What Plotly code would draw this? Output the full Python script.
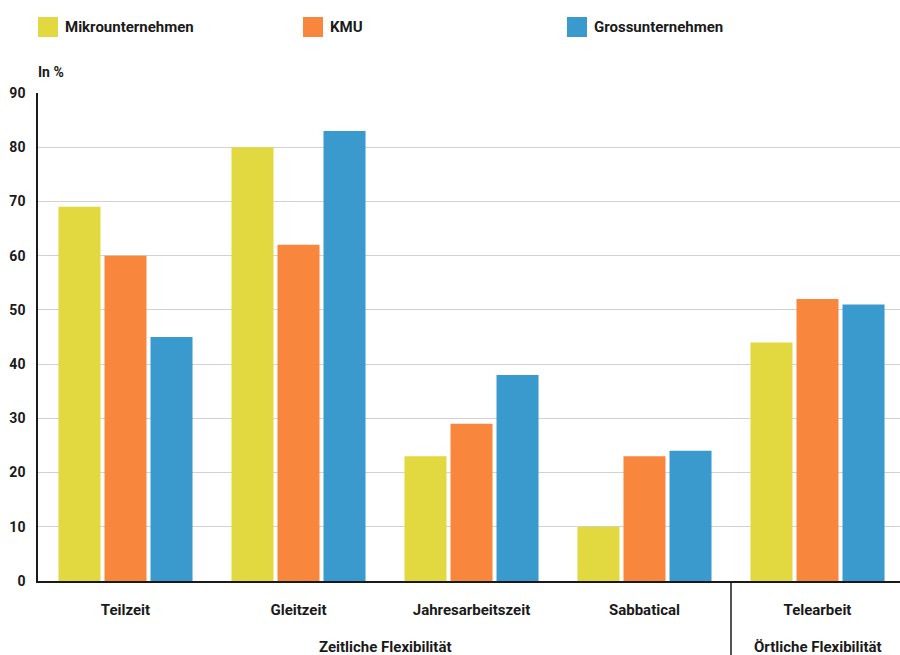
import plotly.graph_objects as go

# Flexible Arbeitsmodelle nach Unternehmensgrösse (in %)
categories = ["Teilzeit", "Gleitzeit", "Jahresarbeitszeit", "Sabbatical", "Telearbeit"]
series_names = ["Mikrounternehmen", "KMU", "Grossunternehmen"]
mikro = [69, 80, 23, 10, 44]
kmu = [60, 62, 29, 23, 52]
gross = [45, 83, 38, 24, 51]
y_ticks = [0, 10, 20, 30, 40, 50, 60, 70, 80, 90]
group_labels = ["Zeitliche Flexibilität", "Örtliche Flexibilität"]

colors = ["#E2D840", "#F8873D", "#3A9ACD"]
FONT = "Roboto, Arial, sans-serif"
TXT = "#1a1a1a"

x_pos = list(range(len(categories)))

fig = go.Figure()
for name, vals, col in zip(series_names, [mikro, kmu, gross], colors):
    fig.add_trace(go.Bar(x=x_pos, y=vals, name=name, marker=dict(color=col, line=dict(width=0)),
                         showlegend=False))

# Custom legend: colored squares with bold labels
legend_x = [38, 303, 567]
W, H = 900, 655
ml, mr, mt, mb = 38, 0, 93, 74
pw, ph = W - ml - mr, H - mt - mb
shapes = []
annotations = []
for lx, name, col in zip(legend_x, series_names, colors):
    x0 = (lx - ml) / pw
    x1 = (lx + 20 - ml) / pw
    y0 = (H - mb - 37) / ph
    y1 = (H - mb - 17) / ph
    shapes.append(dict(type="rect", xref="paper", yref="paper", x0=x0, x1=x1, y0=y0, y1=y1,
                       fillcolor=col, line=dict(width=0)))
    annotations.append(dict(xref="paper", yref="paper", x=(lx + 25 - ml) / pw, y=(H - mb - 27) / ph,
                            text="<b>%s</b>" % name, showarrow=False, xanchor="left", yanchor="middle",
                            font=dict(family=FONT, size=15, color=TXT)))

# Axis unit label
annotations.append(dict(xref="paper", yref="paper", x=-0.002, y=(H - mb - 72) / ph, text="<b>In %</b>",
                        showarrow=False, xanchor="left", yanchor="middle",
                        font=dict(family=FONT, size=14, color=TXT)))

# Group labels below the categories
gy = -(647 - (H - mb)) / ph
annotations.append(dict(xref="x", yref="paper", x=1.5, y=gy, text="<b>%s</b>" % group_labels[0],
                        showarrow=False, xanchor="center", yanchor="middle",
                        font=dict(family=FONT, size=15, color=TXT)))
annotations.append(dict(xref="x", yref="paper", x=4, y=gy, text="<b>%s</b>" % group_labels[1],
                        showarrow=False, xanchor="center", yanchor="middle",
                        font=dict(family=FONT, size=15, color=TXT)))

# Separator between the two groups
shapes.append(dict(type="line", xref="x", yref="paper", x0=3.5, x1=3.5, y0=0, y1=-mb / ph - 0.01,
                   line=dict(color=TXT, width=1.5)))

x_start = -0.5 - 1.0 / 173.0
fig.update_layout(
    width=W, height=H,
    margin=dict(l=ml, r=mr, t=mt, b=mb, pad=0),
    paper_bgcolor="white", plot_bgcolor="white",
    barmode="group", bargap=0.202, bargroupgap=0.087,
    font=dict(family=FONT, size=14, color=TXT),
    shapes=shapes, annotations=annotations,
    xaxis=dict(
        tickmode="array", tickvals=x_pos, ticktext=["<b>%s</b>" % c for c in categories],
        range=[x_start, x_start + pw / 173.0],
        showgrid=False, zeroline=False, showline=True, linecolor=TXT, linewidth=2,
        ticks="", ticklabelstandoff=14, tickfont=dict(family=FONT, size=15, color=TXT),
    ),
    yaxis=dict(
        range=[0, 90], tickmode="array", tickvals=y_ticks, ticktext=["<b>%d</b>" % v for v in y_ticks],
        showgrid=True, gridcolor="#d2d2d2", gridwidth=1, zeroline=False,
        showline=True, linecolor=TXT, linewidth=1.5, ticks="", ticklabelstandoff=8,
        tickfont=dict(family=FONT, size=14, color=TXT),
    ),
)

fig.write_html("out.html")
